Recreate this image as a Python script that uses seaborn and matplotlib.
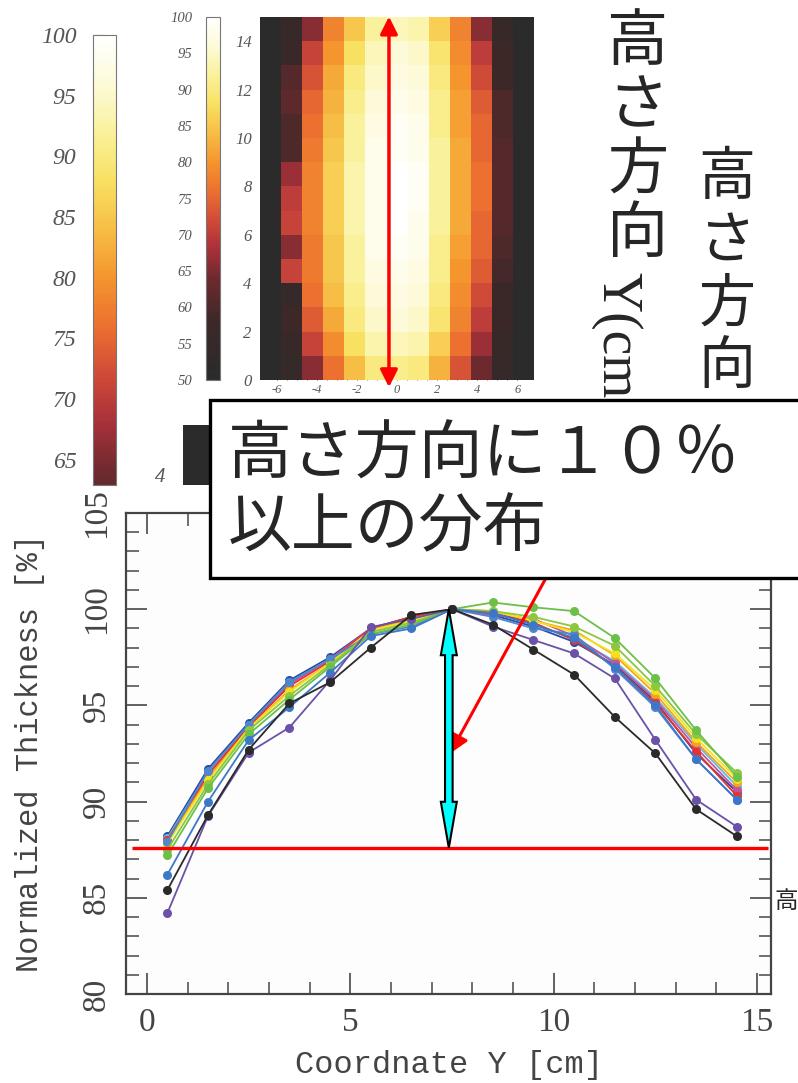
# Thickness distribution figure: height-direction map + normalized thickness profiles
import numpy as np
import pandas as pd
import matplotlib
matplotlib.use('Agg')
import matplotlib.pyplot as plt
import matplotlib.cm as cm
import seaborn as sns
from matplotlib.colors import LinearSegmentedColormap, Normalize
from matplotlib.patches import Rectangle, Polygon
from matplotlib.ticker import MultipleLocator

# DATA
pos_y = [0.5, 1.5, 2.5, 3.5, 4.5, 5.5, 6.5, 7.5, 8.5, 9.5, 10.5, 11.5, 12.5, 13.5, 14.5]

series_names = ['s01', 's02', 's03', 's04', 's05', 's06', 's07', 's08', 's09', 's10', 's11', 's12']
series_colors = ['#2b4aa0', '#5bc0de', '#c2549e', '#e8312f', '#f7a21b', '#f2e41c',
                 '#4f86d0', '#8dc63f', '#6cc04a', '#3d78c8', '#6b52a8', '#2a2a2a']

s01 = [88.2, 91.7, 94.1, 96.3, 97.5, 99.0, 99.6, 100, 99.7, 99.1, 98.3, 97.1, 95.2, 92.5, 90.5]
s02 = [88.1, 91.5, 94.0, 96.2, 97.4, 98.9, 99.4, 100, 99.8, 99.2, 98.5, 97.3, 95.4, 93.0, 90.8]
s03 = [88.0, 91.2, 93.9, 96.1, 97.4, 99.0, 99.5, 100, 99.7, 99.5, 98.6, 97.2, 95.3, 92.8, 90.6]
s04 = [88.0, 91.4, 93.9, 96.0, 97.3, 99.0, 99.6, 100, 99.8, 99.3, 98.4, 97.0, 95.1, 92.6, 90.3]
s05 = [87.9, 91.2, 93.8, 95.8, 97.2, 98.9, 99.5, 100, 99.9, 99.4, 98.9, 97.6, 95.6, 93.1, 91.0]
s06 = [87.8, 91.1, 93.8, 95.7, 97.2, 98.9, 99.4, 100, 99.9, 99.4, 98.8, 97.7, 95.8, 93.3, 91.2]
s07 = [87.9, 91.6, 94.0, 96.2, 97.4, 98.7, 99.1, 100, 99.6, 99.0, 98.7, 96.9, 94.9, 92.2, 90.1]
s08 = [87.5, 90.9, 93.7, 95.5, 97.1, 98.8, 99.3, 100, 99.9, 99.6, 99.1, 98.1, 96.0, 93.5, 91.5]
s09 = [87.2, 90.7, 93.5, 95.3, 97.0, 98.7, 99.2, 100, 100.35, 100.1, 99.9, 98.5, 96.4, 93.7, 91.3]
s10 = [86.2, 90.0, 93.2, 94.9, 96.7, 98.6, 99.0, 100, 99.8, 99.2, 98.5, 97.0, 95.0, 92.2, 90.1]
s11 = [84.2, 89.25, 92.55, 93.85, 96.3, 99.07, 99.5, 100, 99.1, 98.4, 97.7, 96.4, 93.2, 90.1, 88.7]
s12 = [85.4, 89.3, 92.7, 95.1, 96.2, 98.0, 99.7, 100, 99.2, 97.9, 96.6, 94.4, 92.5, 89.6, 88.2]
series_values = [s01, s02, s03, s04, s05, s06, s07, s08, s09, s10, s11, s12]

min_level = 87.6        # red reference line
peak_pos = 7.42         # where the spread arrow sits

# height map (rows from top, y = 15 -> 0), columns across -6.3 .. 6.3
heat_cols = [-6.3, -5.25, -4.2, -3.15, -2.1, -1.05, 0.0, 1.05, 2.1, 3.15, 4.2, 5.25, 6.3]
heat_rows = [
    [50, 56, 66, 78, 85, 92, 94, 93, 86, 78, 66, 56, 50],
    [50, 57, 71, 80, 88, 94, 96, 95, 89, 79, 70, 58, 50],
    [50, 61, 73, 82, 90, 95, 97, 96, 90, 80, 72, 58, 50],
    [50, 62, 75, 83, 91, 96, 98, 97, 91, 81, 74, 60, 50],
    [50, 60, 76, 84, 92, 97, 99, 98, 91, 81, 75, 60, 50],
    [50, 60, 77, 85, 92, 98, 99, 98, 92, 82, 75, 61, 50],
    [50, 67, 78, 86, 93, 98, 100, 99, 92, 82, 76, 61, 50],
    [50, 70, 78, 86, 93, 98, 100, 99, 92, 82, 76, 61, 50],
    [50, 71, 78, 86, 93, 98, 100, 98, 92, 82, 75, 61, 50],
    [50, 66, 77, 85, 92, 98, 99, 98, 91, 81, 75, 60, 50],
    [50, 71, 77, 85, 92, 97, 98, 97, 91, 80, 74, 59, 50],
    [50, 55, 76, 84, 91, 96, 97, 96, 90, 79, 72, 57, 50],
    [50, 58, 74, 82, 90, 95, 96, 95, 89, 78, 70, 57, 50],
    [50, 56, 71, 79, 88, 93, 94, 93, 86, 76, 67, 56, 50],
    [50, 55, 66, 76, 84, 90, 91, 90, 83, 73, 64, 55, 50],
]
heat_x_ticks = [-6, -4, -2, 0, 2, 4, 6]
heat_y_ticks = [0, 2, 4, 6, 8, 10, 12, 14]
cbar_ticks = [50, 55, 60, 65, 70, 75, 80, 85, 90, 95, 100]
big_cbar_ticks = [65, 70, 75, 80, 85, 90, 95, 100]

# STYLE
sns.set_style('ticks')
plt.rcParams['font.family'] = ['Noto Sans CJK JP', 'DejaVu Sans']

cmap = LinearSegmentedColormap.from_list('thick', [
    (0.00, '#2b2b2b'), (0.16, '#3d2828'), (0.28, '#6e2a2e'), (0.36, '#a8303a'),
    (0.44, '#d04a38'), (0.52, '#ec7030'), (0.60, '#f4952e'), (0.68, '#f7bd45'),
    (0.76, '#f8e062'), (0.84, '#faf19a'), (0.92, '#fdfad8'), (1.00, '#ffffff')])

W, H = 798, 1083
fig = plt.figure(figsize=(W / 100, H / 100), dpi=100)


def px_box(l, t, r, b):
    return [l / W, 1 - b / H, (r - l) / W, (b - t) / H]


serif_it = dict(family='Liberation Serif', style='italic', color='#555555')

# big colorbar on the far left
cax1 = fig.add_axes(px_box(93, 35, 116, 485))
sm = cm.ScalarMappable(norm=Normalize(50, 100), cmap=cmap)
cb1 = fig.colorbar(sm, cax=cax1, boundaries=np.linspace(62.9, 100, 300))
cb1.outline.set_edgecolor('#777777')
cb1.outline.set_linewidth(0.8)
cax1.yaxis.set_ticks_position('left')
cax1.set_yticks(big_cbar_ticks)
cax1.yaxis.set_minor_locator(MultipleLocator(1))
cax1.tick_params(which='major', direction='in', length=9, width=0.8, color='#666666', pad=12)
cax1.tick_params(which='minor', direction='in', length=5, width=0.6, color='#666666')
cax1.set_yticklabels([str(t) for t in big_cbar_ticks], fontdict=dict(size=17, **serif_it))

# heat map + its colorbar
ax_h = fig.add_axes(px_box(260, 17, 534, 380))
cax2 = fig.add_axes(px_box(206, 17, 220, 380))
heat_df = pd.DataFrame(heat_rows, columns=heat_cols)
sns.heatmap(heat_df, ax=ax_h, cmap=cmap, vmin=50, vmax=100, cbar_ax=cax2,
            xticklabels=False, yticklabels=False)
cb2 = ax_h.collections[0].colorbar
cb2.outline.set_visible(True)
cb2.outline.set_edgecolor('#777777')
cb2.outline.set_linewidth(0.8)
cax2.yaxis.set_ticks_position('left')
cax2.set_yticks(cbar_ticks)
cax2.yaxis.set_minor_locator(MultipleLocator(1))
cax2.tick_params(which='major', direction='in', length=5, width=0.6, color='#777777', pad=10)
cax2.tick_params(which='minor', direction='in', length=3, width=0.5, color='#777777')
cax2.set_yticklabels([str(t) for t in cbar_ticks], fontdict=dict(size=10.5, **serif_it))

col_w = 1.05
x0 = heat_cols[0] - col_w / 2
ax_h.set_xticks([(v - x0) / col_w for v in heat_x_ticks])
ax_h.set_xticklabels([str(v) for v in heat_x_ticks], fontdict=dict(size=9, **serif_it))
ax_h.set_xticks([(v - x0) / col_w for v in np.arange(-6, 6.01, 0.5)], minor=True)
ax_h.tick_params(axis='x', which='major', direction='in', length=5, width=0.7, color='#555555', pad=3)
ax_h.tick_params(axis='x', which='minor', direction='in', length=3, width=0.6, color='#555555')
ax_h.set_yticks([len(heat_rows) - v for v in heat_y_ticks])
ax_h.set_yticklabels([str(v) for v in heat_y_ticks], fontdict=dict(size=12, **serif_it))
ax_h.tick_params(axis='y', length=0, pad=6)
ax_h.set_xlabel('')
ax_h.set_ylabel('')
arrow_x = (-0.4 - x0) / col_w
ax_h.annotate('', xy=(arrow_x, -0.02), xytext=(arrow_x, len(heat_rows) + 0.3),
              arrowprops=dict(arrowstyle='<|-|>', color='red', lw=2.5, mutation_scale=26,
                              shrinkA=0, shrinkB=0), annotation_clip=False)

# thickness profiles
ax = fig.add_axes(px_box(126, 513, 771, 994))
ax.set_facecolor('#fdfdfd')
rows = []
for name, vals in zip(series_names, series_values):
    for p, v in zip(pos_y, vals):
        rows.append((name, p, v))
df_lines = pd.DataFrame(rows, columns=['series', 'pos', 'thickness'])
sns.lineplot(data=df_lines, x='pos', y='thickness', hue='series', hue_order=series_names,
             palette=dict(zip(series_names, series_colors)), marker='o', markersize=6.5,
             markeredgewidth=0, lw=1.3, legend=False, errorbar=None, ax=ax)

ax.set_xlim(-0.516, 15.34)
ax.set_ylim(80, 105)
ax.set_xticks([0, 5, 10, 15])
ax.set_yticks([80, 85, 90, 95, 100, 105])
ax.xaxis.set_minor_locator(MultipleLocator(1))
ax.yaxis.set_minor_locator(MultipleLocator(1))
ax.tick_params(which='major', direction='in', length=15, width=1.3, color='#555555',
               top=True, right=True, labelsize=24, labelcolor='#444444')
ax.tick_params(which='minor', direction='in', length=9, width=1.2, color='#555555',
               top=True, right=True)
ax.tick_params(axis='x', pad=10)
ax.tick_params(axis='y', pad=10)
for lab in ax.get_xticklabels():
    lab.set_family('Liberation Serif')
for lab in ax.get_yticklabels():
    lab.set_family('Liberation Serif')
    lab.set_rotation(90)
    lab.set_va('center')
for sp in ax.spines.values():
    sp.set_color('#444444')
    sp.set_linewidth(1.6)
ax.set_xlabel('Coordnate Y [cm]', family='Liberation Mono', fontsize=23, color='#444444')
ax.set_ylabel('Normalized Thickness [%]', family='Liberation Mono', fontsize=22, color='#444444')
ax.xaxis.set_label_coords(0.5, -0.148)
ax.xaxis.label.set_va('center')
ax.yaxis.set_label_coords(-0.149, 0.5)
ax.yaxis.label.set_va('center')

# red reference line at the lowest level
ax.hlines(min_level, -0.37, 15.27, color='red', lw=2.4, zorder=5)

# cyan double arrow showing the spread
fig.canvas.draw()
xt, yt = ax.transData.transform((peak_pos, 100))
xb, yb = ax.transData.transform((peak_pos, min_level))
hw, sw, hl = 8, 3.8, 46
verts = [(xt, yt), (xt + hw, yt - hl), (xt + sw, yt - hl), (xt + sw, yb + hl), (xt + hw, yb + hl),
         (xb, yb), (xt - hw, yb + hl), (xt - sw, yb + hl), (xt - sw, yt - hl), (xt - hw, yt - hl)]
fig.patches.append(Polygon(verts, closed=True, facecolor='#00ffff', edgecolor='black', lw=1.5,
                           transform=None, figure=fig, zorder=6))

# red pointer arrow from the note box
ax.annotate('', xy=(7.45, 92.5), xytext=(9.79, 101.55),
            arrowprops=dict(arrowstyle='-|>', color='red', lw=2.2, mutation_scale=28,
                            shrinkA=0, shrinkB=0), zorder=6)

# vertical labels on the right
col1 = ['高', 'さ', '方', '向']
for i, ch in enumerate(col1):
    fig.text(638 / W, 1 - (43 + 64 * i) / H, ch, fontsize=44, ha='center', va='center', zorder=4)
fig.text(616 / W, 1 - 272 / H, 'Y(cm)', family='Liberation Serif', fontsize=40,
         rotation=-90, ha='center', va='top', zorder=4)
for i, ch in enumerate(col1):
    fig.text(727 / W, 1 - (178 + 63 * i) / H, ch, fontsize=41, ha='center', va='center', zorder=4)
fig.text(774 / W, 1 - 902 / H, '高', fontsize=17, ha='left', va='center', zorder=4)

# leftovers around the maps
fig.text(160 / W, 1 - 478 / H, '4', fontsize=15, ha='center', va='center', **serif_it)
fig.patches.append(Rectangle((183 / W, 1 - 485 / H), 29 / W, 60 / H, transform=fig.transFigure,
                             facecolor='#2b2b2b', edgecolor='none', zorder=7))

# note box
fig.patches.append(Rectangle((210 / W, 1 - 578 / H), 600 / W, 178 / H, transform=fig.transFigure,
                             facecolor='white', edgecolor='black', lw=2.4, zorder=8))
fig.text(228 / W, 1 - 455 / H, '高さ方向に１０％', fontsize=46, ha='left', va='center', zorder=9)
fig.text(228 / W, 1 - 528 / H, '以上の分布', fontsize=46, ha='left', va='center', zorder=9)

plt.savefig('out.png', dpi=100)
plt.close()
